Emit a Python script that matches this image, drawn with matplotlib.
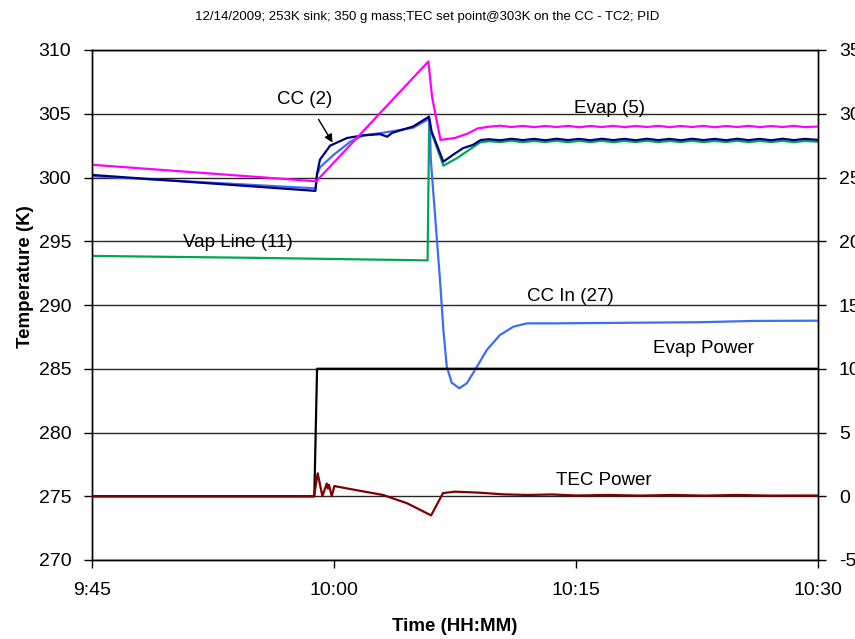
import matplotlib
matplotlib.use("Agg")
import matplotlib.pyplot as plt
from matplotlib.ticker import FixedLocator

# ---- data (time in minutes after 9:45) ----
evap_t = [0, 13.9, 20.85, 21.08, 21.6, 22.5, 23.3, 23.9,
          24.6, 25.3, 26.0, 26.7, 27.4, 28.1, 28.8, 29.5, 30.2, 30.9, 31.6, 32.3, 33.0, 33.7,
          34.4, 35.1, 35.8, 36.5, 37.2, 37.9, 38.6, 39.3, 40.0, 40.7, 41.4, 42.1, 42.8, 43.5, 44.2, 45]
evap_v = [301.0, 299.7, 309.1, 306.3, 302.95, 303.1, 303.45, 303.85,
          303.98, 304.06, 303.96, 304.05, 303.95, 304.04, 303.96, 304.05, 303.94, 304.04, 303.96, 304.05, 303.95, 304.04,
          303.96, 304.05, 303.95, 304.04, 303.96, 304.05, 303.94, 304.04, 303.96, 304.05, 303.95, 304.04, 303.96, 304.05, 303.95, 304.0]

cc2_t = [0, 13.85, 13.95, 14.13, 14.76, 15.81, 16.8, 17.85, 18.3, 18.6, 19.9, 20.89, 21.05, 21.78, 22.4, 23.0, 23.6, 24.1,
         24.6, 25.3, 26.0, 26.7, 27.4, 28.1, 28.8, 29.5, 30.2, 30.9, 31.6, 32.3, 33.0, 33.7,
         34.4, 35.1, 35.8, 36.5, 37.2, 37.9, 38.6, 39.3, 40.0, 40.7, 41.4, 42.1, 42.8, 43.5, 44.2, 45]
cc2_v = [300.2, 298.95, 300.3, 301.4, 302.5, 303.1, 303.3, 303.4, 303.2, 303.5, 304.0, 304.77, 303.6, 301.24, 301.8, 302.3, 302.55, 302.94,
         303.0, 302.92, 303.04, 302.93, 303.03, 302.92, 303.04, 302.93, 303.03, 302.92, 303.04, 302.93, 303.03, 302.92,
         303.04, 302.93, 303.03, 302.92, 303.04, 302.93, 303.03, 302.92, 303.04, 302.93, 303.03, 302.92, 303.04, 302.93, 303.03, 302.95]

ccin_t = [0, 13.85, 13.95, 14.13, 15.0, 16.0, 16.8, 18, 19.9, 20.89, 20.95, 21.0, 21.57, 21.78, 21.99, 22.3, 22.77,
          23.23, 23.74, 24.47, 25.29, 26.12, 26.95, 28.58, 32.73, 37.7, 41, 45]
ccin_v = [300.1, 299.15, 300.2, 300.8, 301.8, 302.8, 303.3, 303.5, 303.9, 304.6, 303.6, 301.4, 291.96, 288.04, 285.16, 283.9, 283.47,
          283.86, 284.9, 286.47, 287.65, 288.3, 288.56, 288.56, 288.6, 288.65, 288.75, 288.77]

vap_t = [0, 10, 20.8, 20.9, 21.05, 21.78, 22.6, 23.3, 24.05,
         24.6, 25.3, 26.0, 26.7, 27.4, 28.1, 28.8, 29.5, 30.2, 30.9, 31.6, 32.3, 33.0, 33.7,
         34.4, 35.1, 35.8, 36.5, 37.2, 37.9, 38.6, 39.3, 40.0, 40.7, 41.4, 42.1, 42.8, 43.5, 44.2, 45]
vap_v = [293.85, 293.7, 293.5, 304.3, 303.5, 300.93, 301.5, 302.1, 302.75,
         302.85, 302.78, 302.88, 302.77, 302.87, 302.78, 302.88, 302.77, 302.87, 302.78, 302.88, 302.77, 302.87, 302.78,
         302.88, 302.77, 302.87, 302.78, 302.88, 302.77, 302.87, 302.78, 302.88, 302.77, 302.87, 302.78, 302.88, 302.77, 302.87, 302.8]

evpw_t = [0, 13.78, 13.95, 45]
evpw_v = [0, 0, 10, 10]

tec_t = [0, 13.76, 13.99, 14.28, 14.55, 14.62, 14.69, 14.86, 15.02, 15.99, 18.04, 19.53, 21.02, 21.76, 22.5,
         24, 25.5, 27, 28.5, 30, 32, 34, 36, 38, 40, 42, 45]
tec_v = [0, 0, 1.8, 0.0, 1.0, 0.6, 0.9, 0.0, 0.8, 0.57, 0.1, -0.55, -1.5, 0.25, 0.36,
         0.28, 0.15, 0.1, 0.14, 0.06, 0.1, 0.05, 0.1, 0.05, 0.1, 0.05, 0.06]

xticks = [0, 15, 30, 45]
xlabels = ["9:45", "10:00", "10:15", "10:30"]
yticks_left = [270, 275, 280, 285, 290, 295, 300, 305, 310]
yticks_right = [-5, 0, 5, 10, 15, 20, 25, 30, 35]

plt.rcParams['font.family'] = ['Liberation Sans', 'DejaVu Sans']
plt.rcParams['axes.unicode_minus'] = False

fig = plt.figure(figsize=(8.55, 6.39), dpi=100)
ax = fig.add_axes([92/855, 1 - 560/639, 726/855, 510/639])
ax2 = ax.twinx()

ax.set_xlim(0, 45)
ax.set_ylim(270, 310)
ax2.set_ylim(-5, 35)

for y in yticks_left:
    ax.axhline(y, color='#262626', lw=1.0, zorder=0)

lw = 1.6
ax.plot(vap_t, vap_v, color='#00A651', lw=lw, zorder=2)
ax.plot(ccin_t, ccin_v, color='#3B6EF5', lw=lw, zorder=3)
ax.plot(cc2_t, cc2_v, color='#000080', lw=lw, zorder=4)
ax.plot(evap_t, evap_v, color='#FF00FF', lw=lw, zorder=5)
ax2.plot(evpw_t, evpw_v, color='black', lw=lw, zorder=3)
ax2.plot(tec_t, tec_v, color='#800000', lw=lw, zorder=4)

ax.xaxis.set_major_locator(FixedLocator(xticks))
ax.set_xticklabels(xlabels)
ax.yaxis.set_major_locator(FixedLocator(yticks_left))
ax2.yaxis.set_major_locator(FixedLocator(yticks_right))

for a in (ax, ax2):
    a.tick_params(direction='out', length=6, width=1, labelsize=14, colors='black', pad=9)
    for s in a.spines.values():
        s.set_linewidth(1.0)
        s.set_color('black')
ax.tick_params(axis='x', pad=10)

ax.set_ylabel('Temperature (K)', fontsize=13.5, fontweight='bold')
ax.yaxis.set_label_coords(-0.08, 0.555)
ax.set_xlabel('Time (HH:MM)', fontsize=13.5, fontweight='bold')
ax.xaxis.set_label_coords(0.5, -0.113)
fig.text(0.5, 1 - 17/639, '12/14/2009; 253K sink; 350 g mass;TEC set point@303K on the CC - TC2; PID',
         ha='center', va='center', fontsize=9.5, family=['Liberation Sans Narrow', 'Liberation Sans'])

fs = 13.5
ax.text(13.2, 306.1, 'CC (2)', fontsize=fs, ha='center', va='center')
ax.annotate('', xy=(15.0, 302.55), xytext=(13.95, 304.75),
            arrowprops=dict(arrowstyle='-|>', color='black', lw=1, mutation_scale=12))
ax.text(32.05, 305.45, 'Evap (5)', fontsize=fs, ha='center', va='center')
ax.text(9.05, 294.94, 'Vap Line (11)', fontsize=fs, ha='center', va='center')
ax.text(29.63, 290.7, 'CC In (27)', fontsize=fs, ha='center', va='center')
ax.text(37.88, 286.55, 'Evap Power', fontsize=fs, ha='center', va='center')
ax.text(31.74, 276.27, 'TEC Power', fontsize=fs, ha='center', va='center')

fig.savefig('out.png', dpi=100)
